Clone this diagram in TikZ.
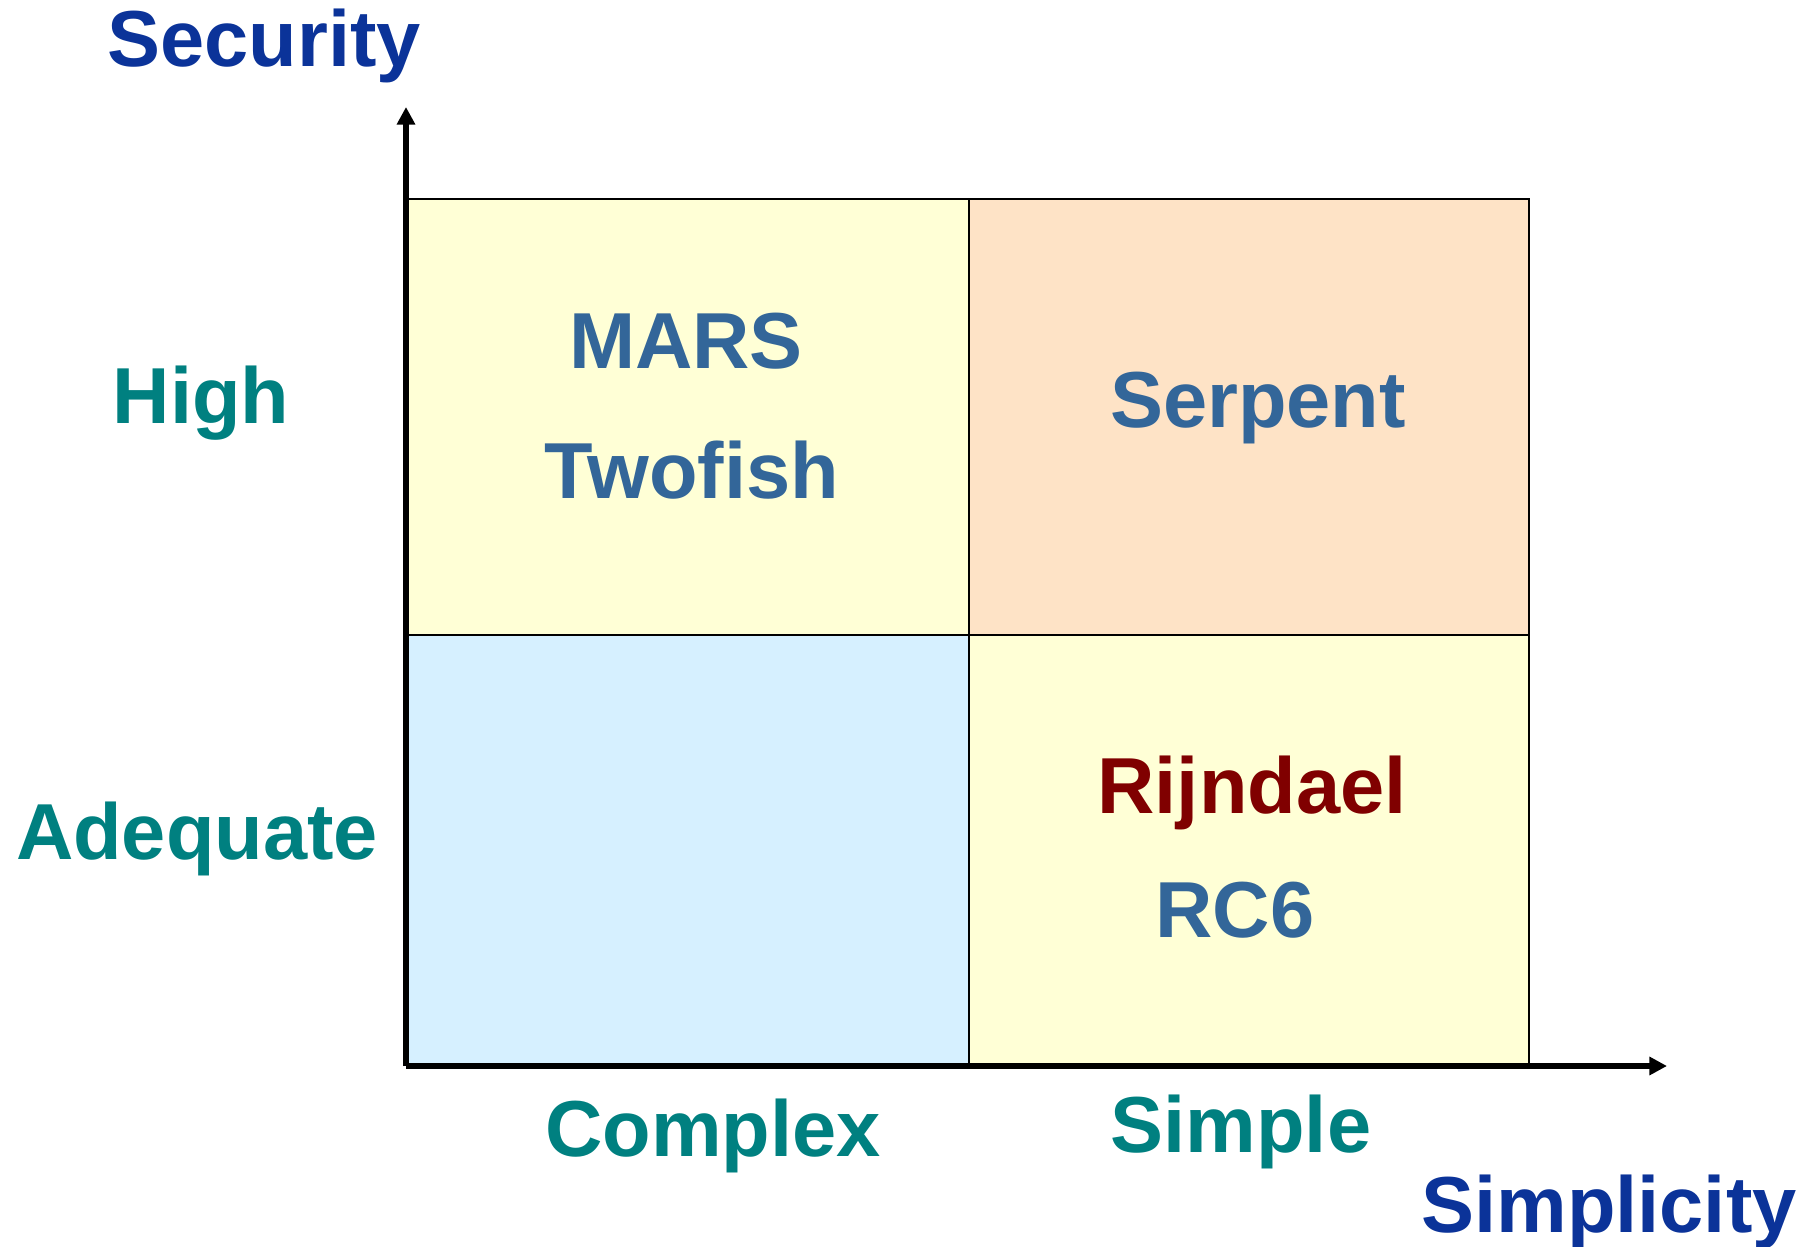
\documentclass[tikz,border=0pt]{standalone}
\usepackage{fontspec}
\setmainfont{Liberation Sans}
\usetikzlibrary{arrows.meta,positioning}

\definecolor{axisblue}{HTML}{0B3399}
\definecolor{teallbl}{HTML}{008080}
\definecolor{cipherblue}{HTML}{336699}
\definecolor{maroon}{HTML}{800000}
\definecolor{paleyellow}{HTML}{FFFFD6}
\definecolor{paleblue}{HTML}{D6F0FF}
\definecolor{palepeach}{HTML}{FEE3C6}

\tikzset{
  quad/.style={draw=black,line width=0.5pt,rectangle,inner sep=0pt,
    minimum width=5.62cm,minimum height=4.36cm},
  lbl/.style={anchor=base,inner sep=0pt,font=\fontsize{22.6}{28}\selectfont\bfseries},
  axislbl/.style={lbl,text=axisblue},
  levellbl/.style={lbl,text=teallbl},
  cipher/.style={lbl,text=cipherblue},
  axisline/.style={line width=1.5pt,-{Triangle[length=5pt,width=5pt]}}
}

\begin{document}
\begin{tikzpicture}
  \useasboundingbox (0,0) rectangle (18.18,12.46);
  % quadrants
  \node[quad,fill=paleyellow,anchor=south west] (hicomplex) at (4.06,6.10) {};
  \node[quad,fill=palepeach,anchor=south west,minimum width=5.60cm] (hisimple) at (9.68,6.10) {};
  \node[quad,fill=paleblue,anchor=south west,minimum height=4.30cm] (adcomplex) at (4.06,1.80) {};
  \node[quad,fill=paleyellow,anchor=south west,minimum width=5.60cm,minimum height=4.30cm] (adsimple) at (9.68,1.80) {};
  % axes
  \coordinate (origin) at (4.06,1.80);
  \coordinate (ytip) at (4.06,11.39);
  \coordinate (xtip) at (16.67,1.80);
  \draw[axisline] (origin) -- (ytip) ; %Security axis
  \draw[axisline] (origin) -- (xtip) ; %Simplicity axis
  \node[axislbl] (security) at (2.64,11.79) {Security};
  \node[axislbl] (simplicity) at (16.09,0.14) {Simplicity};
  % levels
  \node[levellbl] (high) at (2.01,8.23) {High};
  \node[levellbl] (adequate) at (1.97,3.87) {Adequate};
  \node[levellbl] (complex) at (7.13,0.90) {Complex};
  \node[levellbl] (simple) at (12.41,0.94) {Simple};
  % ciphers
  \node[cipher] (mars) at (6.86,8.77) {MARS};
  \node[cipher] (twofish) at (6.92,7.47) {Twofish};
  \node[cipher] (serpent) at (12.58,8.19) {Serpent};
  \node[cipher,text=maroon] (rijndael) at (12.52,4.33) {Rijndael};
  \node[cipher] (rcsix) at (12.35,3.09) {RC6};
\end{tikzpicture}
\end{document}
